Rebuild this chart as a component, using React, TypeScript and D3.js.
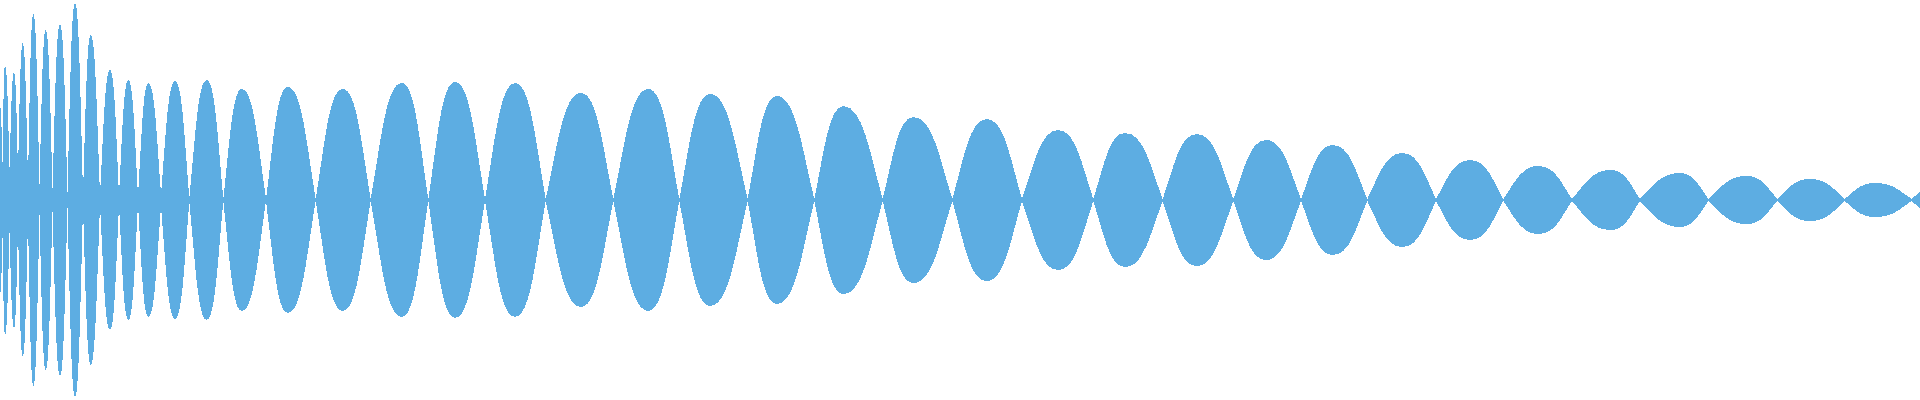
import * as d3 from 'd3';
import React from 'react';

const WIDTH = 1920;
const HEIGHT = 400;
const FILL = '#5dade2';

// time (ms) where the envelope pinches between two lobes
const pinchTimes = [
  -3, 2.5, 9.5, 18, 28, 39.5, 52.5, 67.5, 83, 100, 119, 138, 161, 189.3,
  223.3, 266, 315.7, 370.7, 428.3, 485, 545.7, 613.3, 679.3, 747.7, 814.3,
  882.7, 952.3, 1022, 1093.3, 1162.7, 1233.3, 1301, 1367.3, 1436, 1503.3,
  1572, 1640, 1708.3, 1777.3, 1844.7, 1911.7, 1980,
];

// what is left of the envelope at each pinch (0..1)
const pinchLevels = [
  0.15, 0.19, 0.165, 0.14, 0.1, 0.075, 0.06, 0.04, 0.035, 0.025, 0.025, 0.02,
  0.03, 0.01,
  0.005, 0.005, 0.005, 0.005, 0.005, 0.005, 0.005, 0.005, 0.005, 0.005,
  0.005, 0.005, 0.005, 0.005, 0.005, 0.005, 0.005, 0.005, 0.005, 0.005,
  0.005, 0.005, 0.005, 0.005, 0.005, 0.005, 0.005, 0.005,
];

// time (ms) of each lobe's crest
const crestTimes = [
  0, 5, 14, 22.7, 33.3, 45.7, 60, 75, 90.7, 110, 128.3, 148.3, 175, 206.7,
  241.7, 287.7, 342.7, 401.7, 455, 515, 581, 648.3, 710, 776.7, 843.3, 913.3,
  986.7, 1058.3, 1125, 1196.7, 1266, 1332.7, 1402.3, 1470, 1538.3, 1610.7,
  1680, 1746.7, 1810, 1875, 1935,
];

// crest amplitude of each lobe (0..1)
const crestLevels = [
  0.47, 0.675, 0.64, 0.785, 0.93, 0.85, 0.88, 0.985, 0.825, 0.65, 0.6, 0.585,
  0.595, 0.6, 0.555, 0.565, 0.555, 0.585, 0.59, 0.585, 0.535, 0.555, 0.53,
  0.52, 0.47, 0.415, 0.405, 0.35, 0.335, 0.33, 0.3, 0.275, 0.235, 0.2, 0.17,
  0.15, 0.135, 0.12, 0.105, 0.085, 0.07,
];

// curve for a pinch-crest-pinch triple: sharp at the pinches, broad round crest
function curveLobe(context: any) {
  let pts: [number, number][] = [];
  let line = NaN;

  function half(p: [number, number], q: [number, number], rising: boolean) {
    const dx = q[0] - p[0];
    if (rising) {
      context.bezierCurveTo(p[0] + dx / 3, p[1] + (q[1] - p[1]) / 2, q[0] - dx / 2, q[1], q[0], q[1]);
    } else {
      context.bezierCurveTo(p[0] + dx / 2, p[1], q[0] - dx / 3, q[1] + (p[1] - q[1]) / 2, q[0], q[1]);
    }
  }

  return {
    areaStart() { line = 0; },
    areaEnd() { line = NaN; },
    lineStart() { pts = []; },
    point(x: number, y: number) { pts.push([+x, +y]); },
    lineEnd() {
      const [a, c, b] = pts;
      if (line) context.lineTo(a[0], a[1]);
      else context.moveTo(a[0], a[1]);
      half(a, c, true);
      half(c, b, false);
      if (line) context.closePath();
      line = 1 - line;
    },
  };
}

export default function App() {
  const x = d3.scaleLinear().domain([0, 1920]).range([0, WIDTH]);
  const y = d3.scaleLinear().domain([-1, 1]).range([HEIGHT, 0]);

  const area = d3.area<[number, number]>()
    .x(d => x(d[0]))
    .y0(d => y(-d[1]))
    .y1(d => y(d[1]))
    .curve(curveLobe as any);

  // one mirrored lobe between two pinches
  const lobes = crestTimes.map((t, i) => [
    [pinchTimes[i], pinchLevels[i]],
    [t, crestLevels[i]],
    [pinchTimes[i + 1], pinchLevels[i + 1]],
  ] as [number, number][]);

  return (
    <svg
      width={WIDTH}
      height={HEIGHT}
      style={{ position: 'absolute', left: 0, top: 0, display: 'block' }}
    >
      <g shapeRendering="crispEdges">
        {lobes.map((pts, i) => (
          <path key={i} d={area(pts) || ''} fill={FILL} />
        ))}
      </g>
    </svg>
  );
}
